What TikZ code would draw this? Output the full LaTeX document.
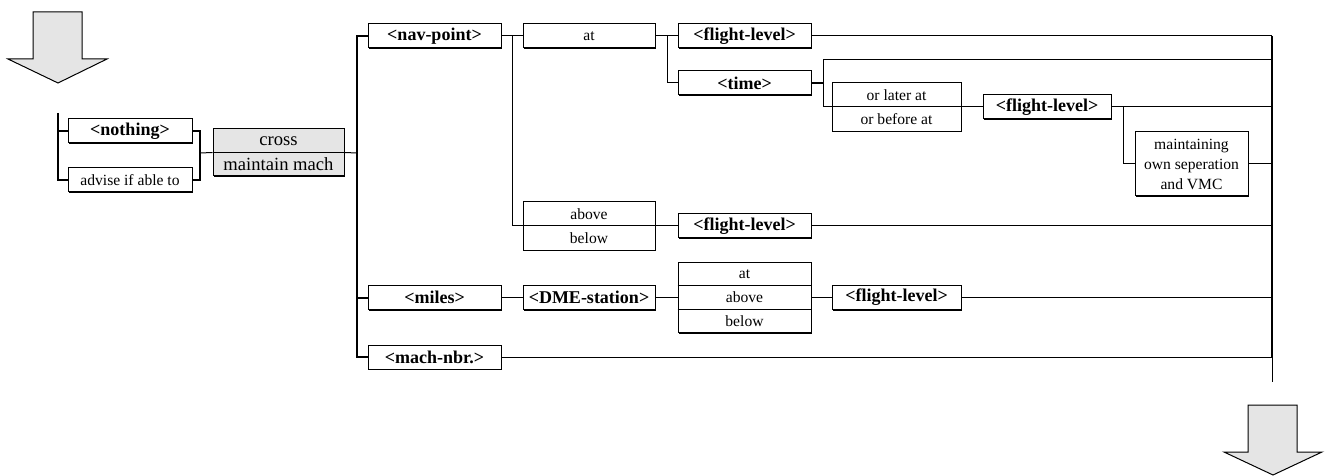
\documentclass[tikz,border=0pt]{standalone}
\usepackage{fontspec}
\setmainfont{Liberation Serif}
\usetikzlibrary{shadows,calc}
\definecolor{boxgray}{gray}{0.9}
\tikzset{
  item/.style={draw,rectangle,fill=white,inner sep=0pt,line width=0.5pt,
    drop shadow={shadow xshift=0.5pt,shadow yshift=-0.5pt,fill=black,opacity=1}},
  kw/.style={item,font=\fontsize{9}{10}\selectfont\bfseries,minimum height=12pt},
  word/.style={font=\fontsize{7.8}{10}\selectfont,inner sep=0pt},
  big/.style={font=\fontsize{9.3}{10}\selectfont,inner sep=0pt},
  wire/.style={line width=0.5pt},
  bar/.style={line width=1pt},
  bigarrow/.style={draw,line width=0.5pt,fill=boxgray},
}

\begin{document}
\begin{tikzpicture}[x=0.5pt,y=-0.5pt]
\useasboundingbox (0,0) rectangle (1340,476);
% in and out arrows
\draw[bigarrow] (33,12) -- (82,12) -- (82,59) -- (107,59) -- (58,83) -- (8,59) -- (33,59) -- cycle;
\draw[bigarrow] (1248,405) -- (1297,405) -- (1297,452) -- (1322,452) -- (1273,475) -- (1224,452) -- (1248,452) -- cycle;
% entry
\node[kw,minimum width=62pt] (NOT) at (130,131) {<nothing>};
\node[item,word,minimum width=62pt,minimum height=12pt] (ADV) at (130,180) {advise if able to};
\node[item,fill=boxgray,minimum width=65.5pt,minimum height=23.5pt] (CRS) at (278.5,152.5) {};
\draw[wire] (CRS.west) -- (CRS.east);
\node[big] (CRS1) at (278.5,141) {cross};
\node[big] (CRS2) at (278.5,164.5) {maintain mach};
% first column
\node[kw,minimum width=66.5pt] (NAV) at (434.5,36) {<nav-point>};
\node[kw,minimum width=66.5pt] (MIL) at (434.5,297.5) {<miles>};
\node[kw,minimum width=66.5pt] (MCH) at (434.5,357) {<mach-nbr.>};
% second column
\node[item,word,minimum width=66pt,minimum height=12pt] (AT1) at (589,36) {at};
\node[item,minimum width=66pt,minimum height=24pt] (ABV) at (589,226) {};
\draw[wire] (ABV.west) -- (ABV.east);
\node[word] (ABV1) at (589,214) {above};
\node[word] (ABV2) at (589,238) {below};
\node[kw,minimum width=66pt] (DME) at (589,297.5) {<DME-station>};
% third column
\node[kw,minimum width=66.5pt] (FL1) at (744.5,36) {<flight-level>};
\node[kw,minimum width=66.5pt] (TIM) at (744.5,83) {<time>};
\node[kw,minimum width=66.5pt] (FL3) at (744.5,226) {<flight-level>};
\node[item,minimum width=66.5pt,minimum height=35pt] (AAB) at (744.5,297.5) {};
\draw[wire] ($(AAB.north west)!1/3!(AAB.south west)$) -- ($(AAB.north east)!1/3!(AAB.south east)$);
\draw[wire] ($(AAB.north west)!2/3!(AAB.south west)$) -- ($(AAB.north east)!2/3!(AAB.south east)$);
\node[word] (AAB1) at (744.5,274.5) {at};
\node[word] (AAB2) at (744.5,297.5) {above};
\node[word] (AAB3) at (744.5,321) {below};
% fourth column
\node[item,minimum width=64.5pt,minimum height=24.5pt] (OLB) at (896.5,107) {};
\draw[wire] (OLB.west) -- (OLB.east);
\node[word] (OLB1) at (896.5,95) {or later at};
\node[word] (OLB2) at (896.5,119) {or before at};
\node[kw,minimum width=64.5pt] (FL4) at (896.5,297.5) {<flight-level>};
\node[kw,minimum width=64pt] (FL2) at (1047,107) {<flight-level>};
\node[item,word,align=center,minimum width=56.5pt,minimum height=32pt] (MOS) at (1191.5,164) {maintaining\\own seperation\\and VMC};
% connections
\coordinate (INB) at (58,113);
\coordinate (INJ) at (200,153);
\coordinate (SPL) at (357,153);
\coordinate (NSP) at (512,36);
\coordinate (ASP) at (667,36);
\coordinate (TSP) at (823,60);
\coordinate (FSP) at (1123,107);
\coordinate (OUT) at (1272,36);
\coordinate (OUTM) at (1272,357);
\coordinate (OUTB) at (1272,382);
\draw[bar] (INB) |- (ADV.west);
\draw[bar] (NOT.west) -- (NOT.west -| INB);
\draw[bar] (NOT.east) -| (INJ) |- (ADV.east);
\draw[wire] (INJ) -- (CRS.west);
\draw[wire] (CRS.east) -- (SPL);
\draw[bar] (NAV.west) -| (SPL) |- (MCH.west);
\draw[bar] (MIL.west) -- (MIL.west -| SPL);
\draw[wire] (NAV.east) -- (AT1.west);
\draw[wire] (NSP) |- (ABV.west);
\draw[wire] (AT1.east) -- (FL1.west);
\draw[wire] (ASP) |- (TIM.west);
\draw[wire] (FL1.east) -- (OUT);
\draw[bar] (TIM.east) -- (TIM.east -| TSP);
\draw[wire] (OUT |- TSP) -- (TSP) |- (OLB.west);
\draw[wire] (OLB.east) -- (FL2.west);
\draw[wire] (FL2.east) -- (FL2.east -| OUT);
\draw[wire] (FSP) |- (MOS.west);
\draw[wire] (MOS.east) -- (MOS.east -| OUT);
\draw[wire] (ABV.east) -- (FL3.west);
\draw[wire] (FL3.east) -- (FL3.east -| OUT);
\draw[wire] (MIL.east) -- (DME.west);
\draw[wire] (DME.east) -- (AAB.west);
\draw[wire] (AAB.east) -- (FL4.west);
\draw[wire] (FL4.east) -- (FL4.east -| OUT);
\draw[wire] (MCH.east) -- (OUTM);
\draw[bar] (OUT) -- (OUTM);
\draw[wire] (OUTM) -- (OUTB);
\end{tikzpicture}
\end{document}
